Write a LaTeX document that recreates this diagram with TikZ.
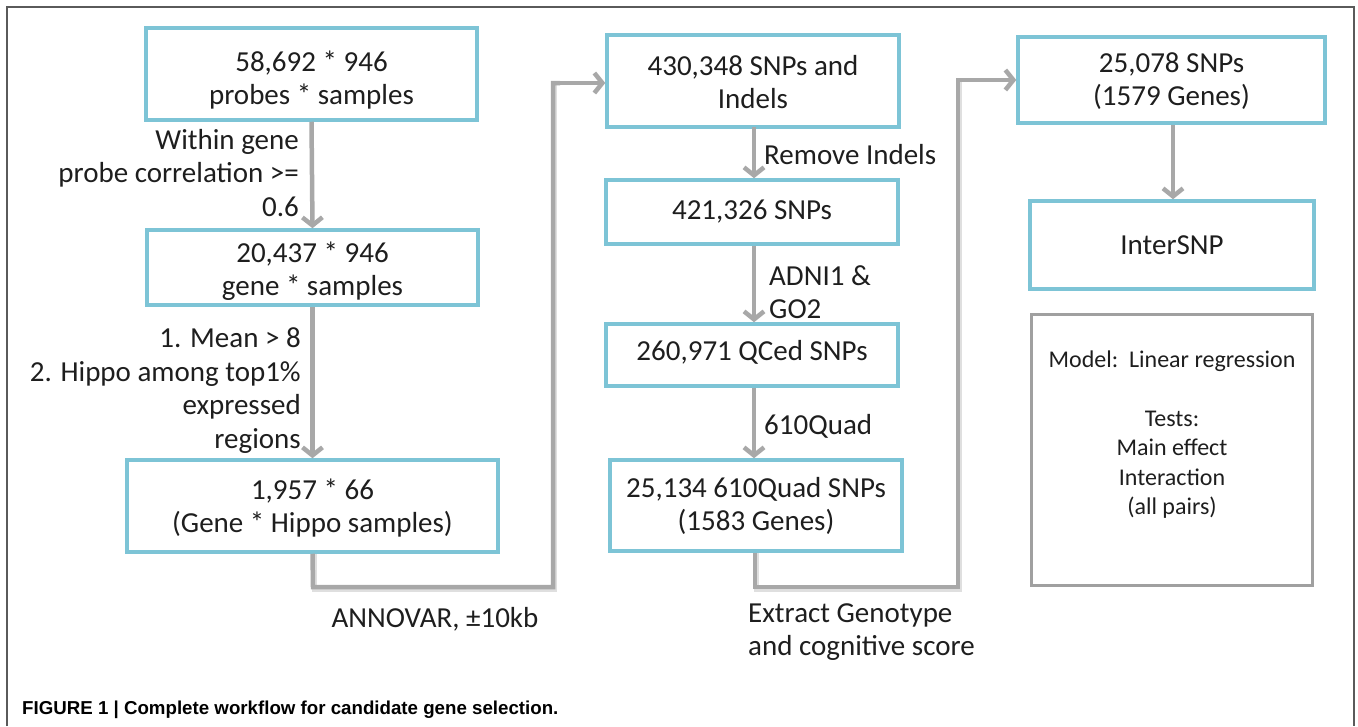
\documentclass[tikz,border=0pt]{standalone}
\usepackage{fontspec}
\setmainfont{Carlito}
\newfontfamily\capfont{Liberation Sans}
\usetikzlibrary{arrows.meta}
\definecolor{boxblue}{RGB}{125,196,214}
\definecolor{conngray}{RGB}{168,168,168}
\definecolor{framegray}{RGB}{90,90,90}
\definecolor{jgray}{RGB}{160,160,160}
\definecolor{txt}{RGB}{30,30,30}
\tikzset{
  bluebox/.style={draw=boxblue, line width=3.5pt, inner sep=0pt},
  graybox/.style={draw=jgray, line width=3.5pt, inner sep=0pt},
  btxt/.style={inner sep=0pt, align=center, font=\fontsize{29}{32.5}\selectfont, text=txt},
  conn/.style={draw=conngray, line width=4.5pt,
    -{Straight Barb[length=8pt, width=20pt, line width=4.5pt]}},
  connplain/.style={draw=conngray, line width=4.5pt},
  shadow/.style={draw=black!25, line width=4.5pt, opacity=0.5},
  lbl/.style={inner sep=0pt, font=\fontsize{29}{33.5}\selectfont, text=txt},
  jtxt/.style={inner sep=0pt, font=\fontsize{24}{29.5}\selectfont, text=txt, align=center},
}
\begin{document}
\begin{tikzpicture}[x=1pt, y=-1pt]
\useasboundingbox (0,0) rectangle (1358,726);
% frame
\draw[framegray, line width=1.5pt] (7,726) -- (7,7) -- (1354,7) -- (1354,726);

% connector shadows
\draw[shadow] (314.5,553) -- (314.5,589.5) -- (554.5,589.5) -- (554.5,85);
\draw[shadow] (756.5,553) -- (756.5,589.5) -- (959.5,589.5) -- (959.5,82);

% boxes
\node[bluebox, minimum width=331pt, minimum height=92pt] (A) at (311.5,74) {};
\node[btxt] (At) at (311.5,80) {58,692 * 946\\probes * samples};
\node[bluebox, minimum width=331pt, minimum height=75pt] (B) at (312.5,267.5) {};
\node[btxt] (Bt) at (312.5,271) {20,437 * 946\\gene * samples};
\node[bluebox, minimum width=371pt, minimum height=92pt] (C) at (312.5,506) {};
\node[btxt] (Ct) at (312.5,508) {1,957 * 66\\(Gene * Hippo samples)};

\node[bluebox, minimum width=292pt, minimum height=92pt] (D) at (753,81) {};
\node[btxt] (Dt) at (753,82) {430,348 SNPs and\\Indels};
\node[bluebox, minimum width=292pt, minimum height=64pt] (E) at (752,212) {};
\node[btxt] (Et) at (752,212) {421,326 SNPs};
\node[bluebox, minimum width=292pt, minimum height=62pt] (F) at (752,355) {};
\node[btxt] (Ft) at (752,352) {260,971 QCed SNPs};
\node[bluebox, minimum width=292pt, minimum height=91pt] (G) at (756,505.5) {};
\node[btxt] (Gt) at (756,506) {25,134 610Quad SNPs\\(1583 Genes)};

\node[bluebox, minimum width=307pt, minimum height=86pt] (H) at (1171.5,80) {};
\node[btxt] (Ht) at (1171.5,81) {25,078 SNPs\\(1579 Genes)};
\node[bluebox, minimum width=284pt, minimum height=88pt] (I) at (1172,245) {};
\node[btxt] (It) at (1172,245) {InterSNP};
\node[graybox, minimum width=281pt, minimum height=271pt] (J) at (1172,450) {};
\node[jtxt, anchor=north] (Jt) at (1172,351) {Model:\ \ Linear regression\\[29pt]Tests:\\Main effect\\Interaction\\(all pairs)};

% connectors
\draw[conn] (A.south) -- (B.north);
\draw[conn] (B.south) -- (C.north);

\coordinate (c1) at (313,587);
\coordinate (c2) at (553,587);
\coordinate (c3) at (553,83);
\draw[connplain] (C.south) -- (c1) -- (c2) -- (c3) -- (560,83);
\draw[conn] (c3) -- (D.west |- c3);

\draw[conn] (754,127) -- (E.north -| 754,0);
\draw[conn] (E.south -| 754,0) -- (F.north -| 754,0);
\draw[conn] (F.south -| 754,0) -- (G.north -| 754,0);

\coordinate (g1) at (755,587);
\coordinate (g2) at (958,587);
\coordinate (g3) at (958,80);
\draw[connplain] (G.south -| g1) -- (g1) -- (g2) -- (g3) -- (965,80);
\draw[conn] (g3) -- (H.west |- g3);

\draw[conn] (H.south -| 1173,0) -- (I.north -| 1173,0);

% labels
\node[lbl, align=right, anchor=east] (l1) at (299,173) {Within gene\\probe correlation >=\\0.6};
\node[lbl, align=right, anchor=east] (l2) at (301,390.5) {1. Mean > 8\\2. Hippo among top1\%\\expressed\\regions};
\node[lbl] (l3) at (435,619) {ANNOVAR, ±10kb};
\node[lbl, anchor=west] (l4) at (764,155) {Remove Indels};
\node[lbl, align=left, anchor=west] (l5) at (769,292) {ADNI1 \&\\GO2};
\node[lbl, anchor=west] (l6) at (764,426) {610Quad};
\node[lbl, align=left, anchor=west] (l7) at (748,632) {Extract Genotype\\and cognitive score};

% caption
\node[inner sep=0pt, anchor=west, font=\capfont\bfseries\fontsize{18.7}{20}\selectfont] (cap) at (22,710) {FIGURE 1 | Complete workflow for candidate gene selection.};
\end{tikzpicture}
\end{document}
